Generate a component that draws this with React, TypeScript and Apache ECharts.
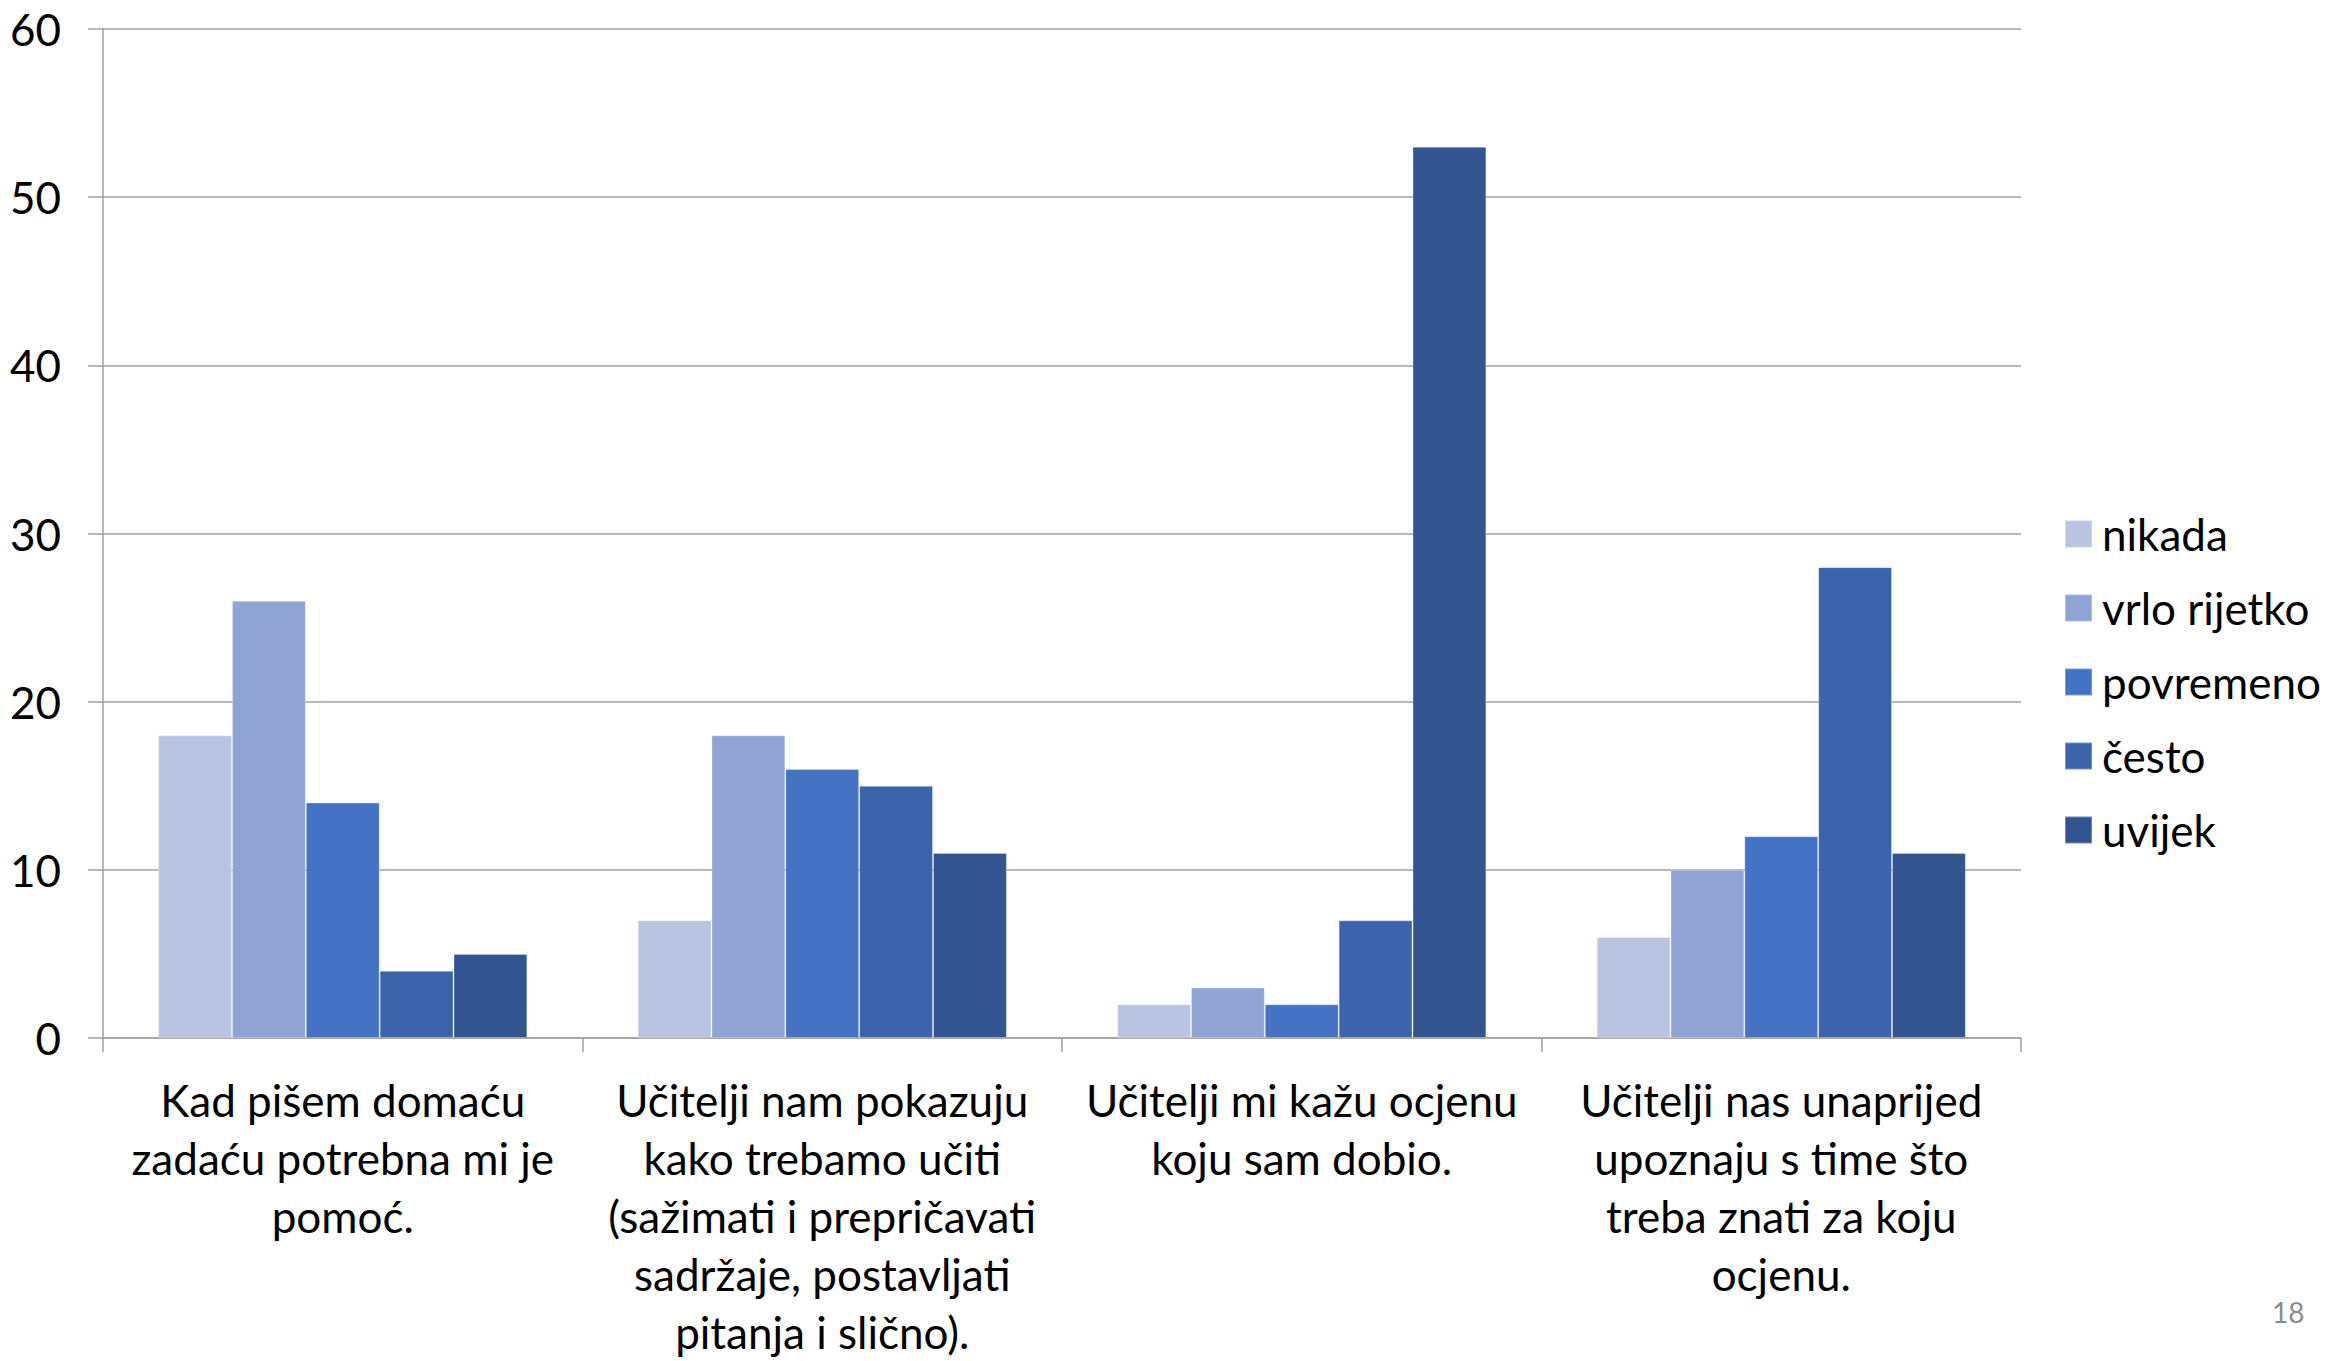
import React, { useEffect, useRef } from "react";
import * as echarts from "echarts";

const categories = [
  "Kad pišem domaću\nzadaću potrebna mi je\npomoć.",
  "Učitelji nam pokazuju\nkako trebamo učiti\n(sažimati i prepričavati\nsadržaje, postavljati\npitanja i slično).",
  "Učitelji mi kažu ocjenu\nkoju sam dobio.",
  "Učitelji nas unaprijed\nupoznaju s time što\ntreba znati za koju\nocjenu.",
];

const seriesNames = ["nikada", "vrlo rijetko", "povremeno", "često", "uvijek"];
const nikada = [18, 7, 2, 6];
const vrloRijetko = [26, 18, 3, 10];
const povremeno = [14, 16, 2, 12];
const cesto = [4, 15, 7, 28];
const uvijek = [5, 11, 53, 11];
const seriesValues = [nikada, vrloRijetko, povremeno, cesto, uvijek];
const seriesColors = ["#B9C3E2", "#8FA3D4", "#4472C4", "#3B64AD", "#325592"];
const yTicks = { min: 0, max: 60, interval: 10 };
const pageNumber = "18";

const FONT = "Lato, 'Open Sans', sans-serif";

export default function App() {
  const ref = useRef<HTMLDivElement>(null);
  useEffect(() => {
    if (!ref.current) return;
    const chart = echarts.init(ref.current, null, { renderer: "svg" });
    chart.setOption({
      animation: false,
      backgroundColor: "#ffffff",
      textStyle: { fontFamily: FONT },
      grid: { left: 103, right: 318, top: 29, bottom: 321, containLabel: false },
      legend: {
        orient: "vertical",
        left: 2059,
        top: 507,
        itemWidth: 27,
        itemHeight: 27,
        itemGap: 30,
        icon: "rect",
        data: seriesNames,
        textStyle: {
          fontFamily: FONT,
          fontSize: 44,
          color: "#000000",
          lineHeight: 27,
          padding: [0, 0, 0, 5],
        },
      },
      xAxis: {
        type: "category",
        data: categories,
        boundaryGap: true,
        axisLine: { show: true, lineStyle: { color: "#A0A0A0", width: 1.5 } },
        axisTick: { show: true, length: 14, lineStyle: { color: "#A0A0A0", width: 1.5 } },
        axisLabel: {
          interval: 0,
          margin: 33,
          fontFamily: FONT,
          fontSize: 44,
          lineHeight: 58,
          color: "#000000",
          align: "center",
        },
      },
      yAxis: {
        type: "value",
        min: yTicks.min,
        max: yTicks.max,
        interval: yTicks.interval,
        axisLine: { show: true, lineStyle: { color: "#A0A0A0", width: 1.5 } },
        axisTick: { show: true, length: 15, lineStyle: { color: "#A0A0A0", width: 1.5 } },
        splitLine: { show: true, lineStyle: { color: "#A0A0A0", width: 1.5 } },
        axisLabel: {
          margin: 42,
          fontFamily: FONT,
          fontSize: 44,
          color: "#000000",
        },
      },
      series: seriesNames.map((name, i) => ({
        name,
        type: "bar",
        data: seriesValues[i],
        barGap: "0%",
        barCategoryGap: "23%",
        itemStyle: {
          color: seriesColors[i],
          borderColor: "rgba(255,255,255,0.3)",
          borderWidth: 1,
        },
      })),
      graphic: [
        {
          type: "text",
          left: 2272,
          top: 1298,
          style: {
            text: pageNumber,
            fontFamily: FONT,
            fontSize: 28,
            fill: "#8C8C8C",
          },
        },
      ],
    });
    return () => chart.dispose();
  }, []);
  return (
    <div
      ref={ref}
      style={{ position: "fixed", left: 0, top: 0, width: 2339, height: 1361 }}
    />
  );
}
